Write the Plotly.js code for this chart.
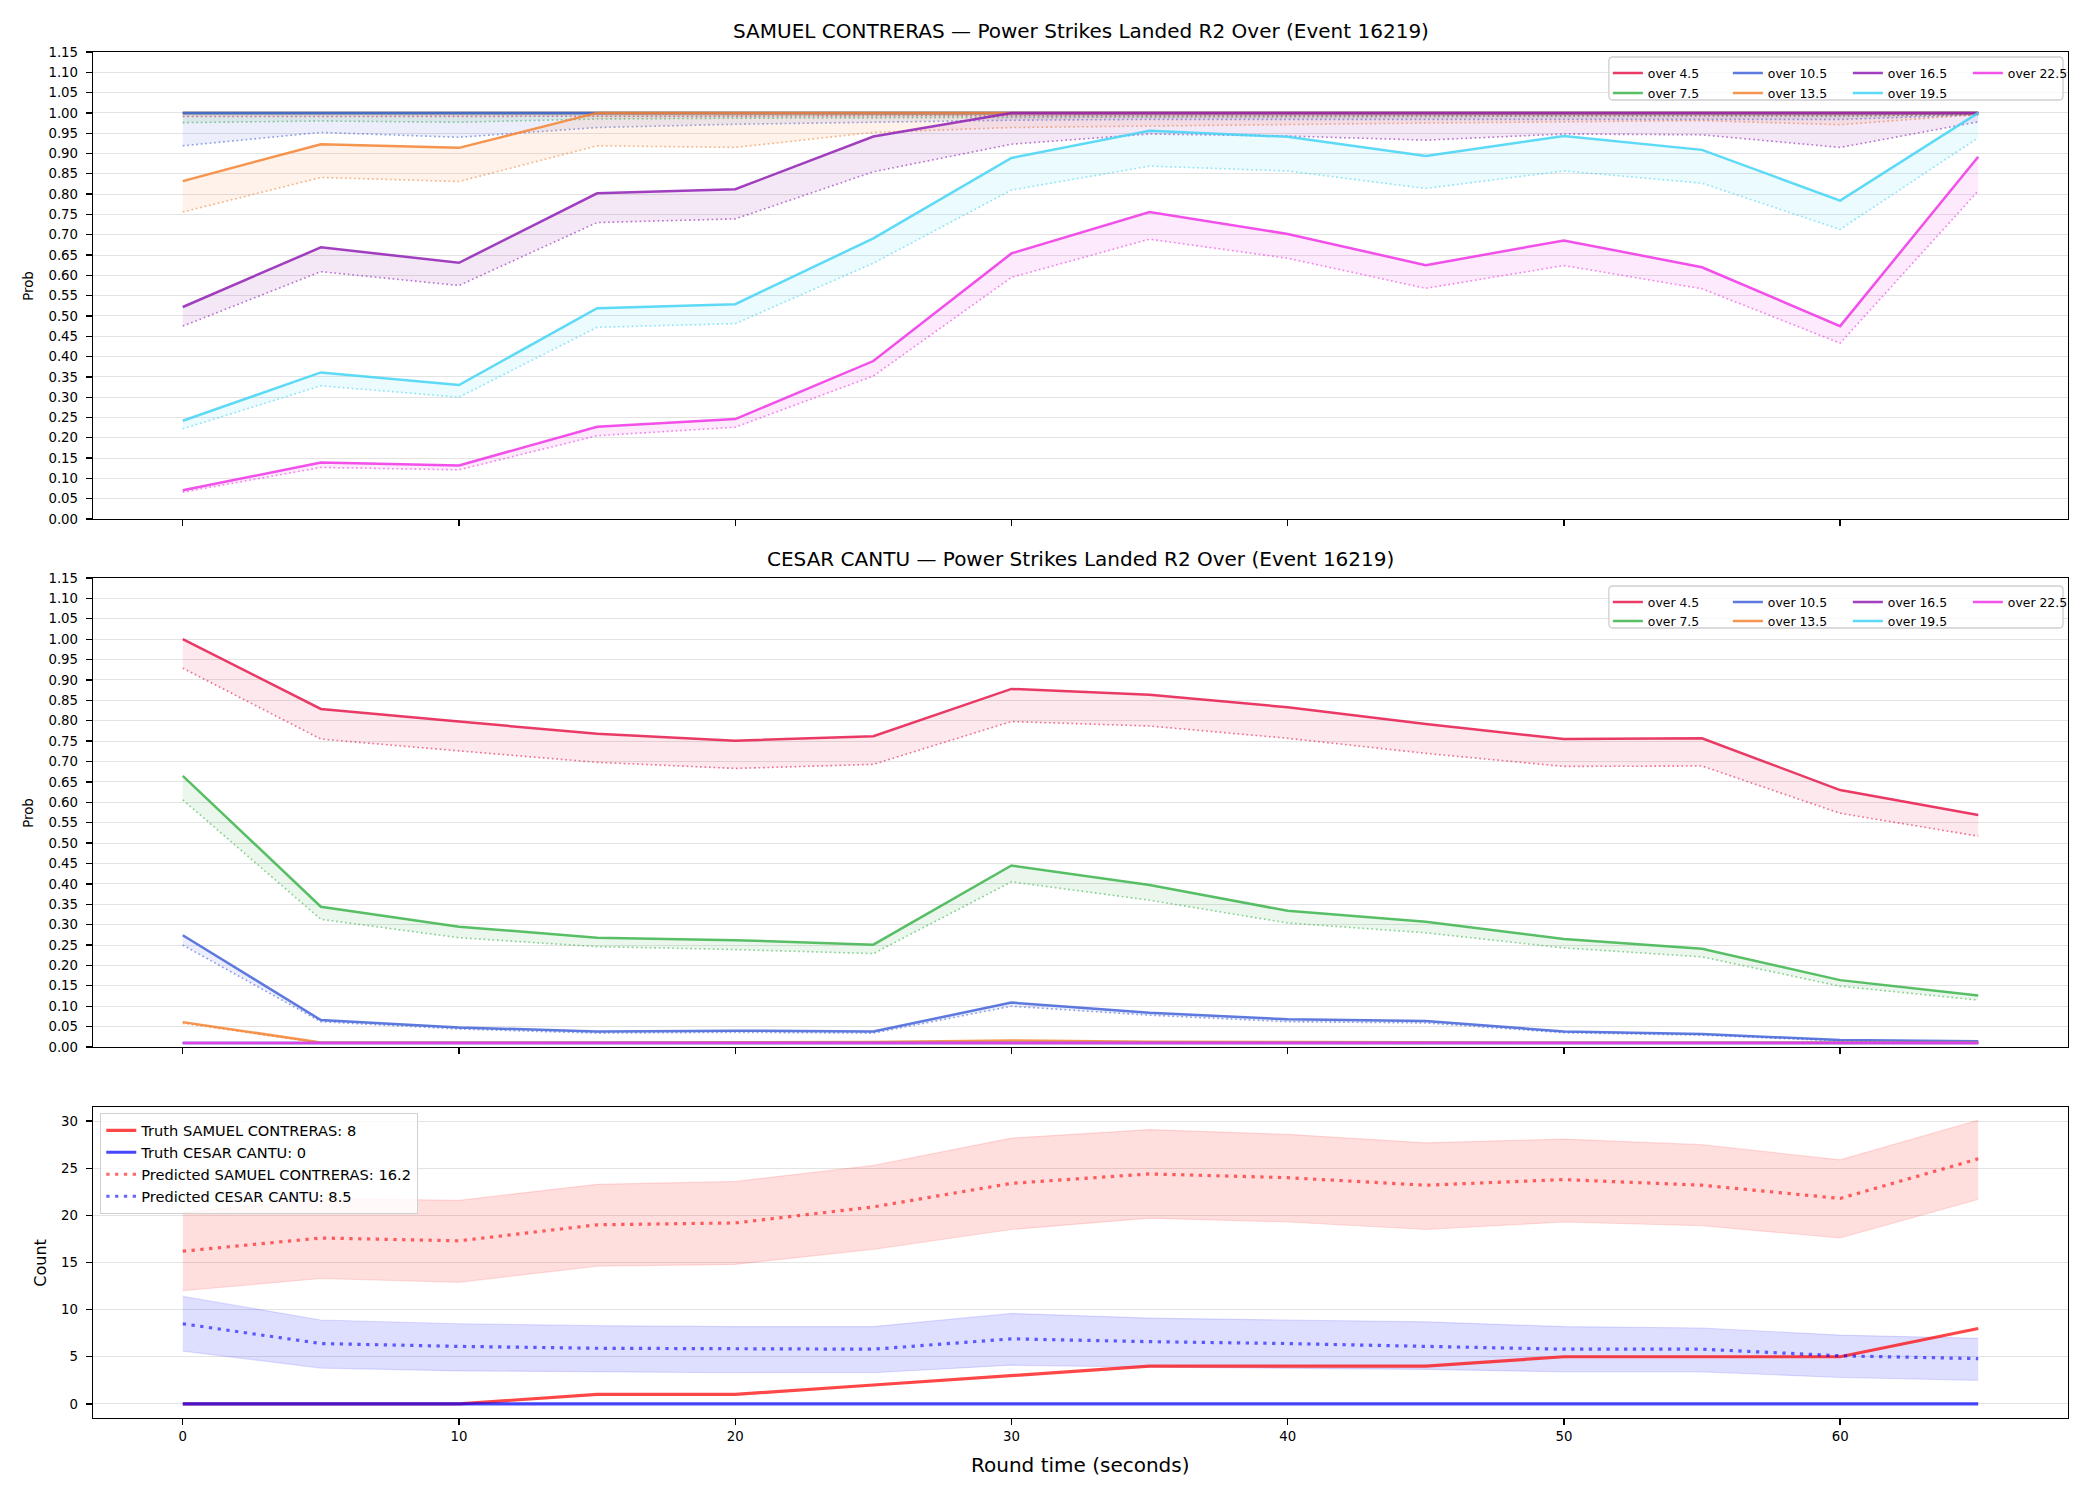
<!DOCTYPE html>
<html><head><meta charset="utf-8">
<script src="https://cdn.plot.ly/plotly-3.0.1.min.js"></script>
<style>html,body{margin:0;padding:0;background:#fff}#chart{width:2100px;height:1500px}</style>
</head><body><div id="chart"></div>
<script>
// ---------------- data ----------------
const times = [0, 5, 10, 15, 20, 25, 30, 35, 40, 45, 50, 55, 60, 65];
const lineNames = ['over 4.5', 'over 7.5', 'over 10.5', 'over 13.5', 'over 16.5', 'over 19.5', 'over 22.5'];

// SAMUEL CONTRERAS (solid lines)
const scOver45  = [1.0, 1.0, 1.0, 1.0, 1.0, 1.0, 1.0, 1.0, 1.0, 1.0, 1.0, 1.0, 1.0, 1.0];
const scOver75  = [1.0, 1.0, 1.0, 1.0, 1.0, 1.0, 1.0, 1.0, 1.0, 1.0, 1.0, 1.0, 1.0, 1.0];
const scOver105 = [1.0, 1.0, 1.0, 1.0, 1.0, 1.0, 1.0, 1.0, 1.0, 1.0, 1.0, 1.0, 1.0, 1.0];
const scOver135 = [0.832, 0.923, 0.914, 1.0, 1.0, 1.0, 1.0, 1.0, 1.0, 1.0, 1.0, 1.0, 1.0, 1.0];
const scOver165 = [0.522, 0.669, 0.631, 0.802, 0.812, 0.942, 1.0, 1.0, 1.0, 1.0, 1.0, 1.0, 1.0, 1.0];
const scOver195 = [0.242, 0.361, 0.330, 0.519, 0.529, 0.691, 0.889, 0.956, 0.941, 0.894, 0.943, 0.909, 0.784, 1.0];
const scOver225 = [0.071, 0.139, 0.132, 0.227, 0.246, 0.389, 0.654, 0.756, 0.702, 0.625, 0.686, 0.620, 0.475, 0.892];
// SAMUEL CONTRERAS (dotted lines)
const scDot45  = [0.991, 0.991, 0.991, 0.992, 0.992, 0.993, 0.993, 0.993, 0.993, 0.993, 0.993, 0.994, 0.993, 0.996];
const scDot75  = [0.976, 0.980, 0.977, 0.985, 0.987, 0.988, 0.989, 0.990, 0.991, 0.992, 0.993, 0.993, 0.992, 0.996];
const scDot105 = [0.919, 0.952, 0.940, 0.964, 0.972, 0.977, 0.982, 0.984, 0.984, 0.984, 0.985, 0.985, 0.984, 0.995];
const scDot135 = [0.756, 0.841, 0.831, 0.919, 0.915, 0.952, 0.964, 0.968, 0.972, 0.975, 0.978, 0.981, 0.971, 0.996];
const scDot165 = [0.475, 0.609, 0.575, 0.730, 0.739, 0.855, 0.923, 0.948, 0.943, 0.933, 0.948, 0.946, 0.915, 0.978];
const scDot195 = [0.222, 0.328, 0.300, 0.472, 0.481, 0.630, 0.810, 0.869, 0.857, 0.814, 0.857, 0.827, 0.713, 0.939];
const scDot225 = [0.066, 0.127, 0.121, 0.205, 0.226, 0.352, 0.595, 0.689, 0.642, 0.568, 0.624, 0.567, 0.433, 0.808];

// CESAR CANTU (solid lines)
const ccOver45  = [1.0, 0.829, 0.798, 0.768, 0.751, 0.762, 0.878, 0.864, 0.833, 0.792, 0.755, 0.757, 0.630, 0.569];
const ccOver75  = [0.665, 0.344, 0.295, 0.268, 0.262, 0.251, 0.445, 0.397, 0.334, 0.307, 0.265, 0.241, 0.164, 0.126];
const ccOver105 = [0.274, 0.066, 0.048, 0.038, 0.040, 0.038, 0.109, 0.084, 0.068, 0.064, 0.038, 0.032, 0.017, 0.014];
const ccOver135 = [0.061, 0.011, 0.011, 0.011, 0.011, 0.012, 0.016, 0.013, 0.012, 0.011, 0.011, 0.011, 0.011, 0.011];
const ccOver165 = [0.010, 0.010, 0.010, 0.010, 0.010, 0.010, 0.010, 0.010, 0.010, 0.010, 0.010, 0.010, 0.010, 0.010];
const ccOver195 = [0.010, 0.010, 0.010, 0.010, 0.010, 0.010, 0.010, 0.010, 0.010, 0.010, 0.010, 0.010, 0.010, 0.010];
const ccOver225 = [0.010, 0.010, 0.010, 0.010, 0.010, 0.010, 0.010, 0.010, 0.010, 0.010, 0.010, 0.010, 0.010, 0.010];
// CESAR CANTU (dotted lines)
const ccDot45  = [0.929, 0.755, 0.726, 0.698, 0.683, 0.693, 0.798, 0.787, 0.757, 0.720, 0.688, 0.689, 0.573, 0.517];
const ccDot75  = [0.606, 0.313, 0.268, 0.246, 0.239, 0.229, 0.405, 0.360, 0.304, 0.280, 0.243, 0.221, 0.149, 0.115];
const ccDot105 = [0.250, 0.062, 0.044, 0.034, 0.036, 0.034, 0.100, 0.078, 0.062, 0.059, 0.035, 0.029, 0.015, 0.012];
const ccDot135 = [0.058, 0.010, 0.010, 0.010, 0.010, 0.011, 0.014, 0.012, 0.011, 0.010, 0.010, 0.010, 0.010, 0.010];
const ccDot165 = [0.010, 0.010, 0.010, 0.010, 0.010, 0.010, 0.010, 0.010, 0.010, 0.010, 0.010, 0.010, 0.010, 0.010];
const ccDot195 = [0.010, 0.010, 0.010, 0.010, 0.010, 0.010, 0.010, 0.010, 0.010, 0.010, 0.010, 0.010, 0.010, 0.010];
const ccDot225 = [0.010, 0.010, 0.010, 0.010, 0.010, 0.010, 0.010, 0.010, 0.010, 0.010, 0.010, 0.010, 0.010, 0.010];

// Counts
const truthSC   = [0, 0, 0, 1, 1, 2, 3, 4, 4, 4, 5, 5, 5, 8];
const truthCC   = [0, 0, 0, 0, 0, 0, 0, 0, 0, 0, 0, 0, 0, 0];
const predSC    = [16.2, 17.6, 17.3, 19.0, 19.2, 20.9, 23.4, 24.4, 24.0, 23.2, 23.8, 23.2, 21.8, 26.0];
const predSCHi  = [20.3, 21.8, 21.6, 23.3, 23.6, 25.3, 28.2, 29.1, 28.6, 27.7, 28.1, 27.5, 25.9, 30.1];
const predSCLo  = [12.0, 13.3, 12.9, 14.6, 14.8, 16.4, 18.5, 19.7, 19.3, 18.5, 19.3, 18.9, 17.6, 21.7];
const predCC    = [8.5, 6.4, 6.1, 5.9, 5.85, 5.8, 6.9, 6.6, 6.4, 6.1, 5.8, 5.8, 5.1, 4.8];
const predCCHi  = [11.4, 8.9, 8.5, 8.3, 8.2, 8.2, 9.6, 9.1, 8.9, 8.7, 8.2, 8.05, 7.3, 6.95];
const predCCLo  = [5.6, 3.8, 3.5, 3.4, 3.3, 3.3, 4.1, 3.9, 3.8, 3.65, 3.4, 3.4, 2.8, 2.5];
const countNames = ['Truth SAMUEL CONTRERAS: 8', 'Truth CESAR CANTU: 0', 'Predicted SAMUEL CONTRERAS: 16.2', 'Predicted CESAR CANTU: 8.5'];

// ---------------- styling ----------------
const lineColors = ['#e6194b', '#3cb44b', '#4363d8', '#f58231', '#911eb4', '#42d4f4', '#f032e6'];
function rgba(hex, a) {
  const n = parseInt(hex.slice(1), 16);
  return 'rgba(' + ((n >> 16) & 255) + ',' + ((n >> 8) & 255) + ',' + (n & 255) + ',' + a + ')';
}
const W = 2100, H = 1500, ML = 93, MR = 24, MT = 52, MB = 82;
const PW = W - ML - MR, PH = H - MT - MB;
const px2x = px => (px - ML) / PW;
const px2y = py => (H - MB - py) / PH;
const FONT = 'DejaVu Sans, Liberation Sans, sans-serif';

const scSolid = [scOver45, scOver75, scOver105, scOver135, scOver165, scOver195, scOver225];
const scDots  = [scDot45, scDot75, scDot105, scDot135, scDot165, scDot195, scDot225];
const ccSolid = [ccOver45, ccOver75, ccOver105, ccOver135, ccOver165, ccOver195, ccOver225];
const ccDots  = [ccDot45, ccDot75, ccDot105, ccDot135, ccDot165, ccDot195, ccDot225];

const traces = [];
function addPanel(solids, dots, xa, ya, legA, legB) {
  for (let i = 0; i < lineNames.length; i++) {
    const c = lineColors[i];
    traces.push({
      x: times, y: solids[i], xaxis: xa, yaxis: ya, type: 'scatter', mode: 'lines',
      name: lineNames[i], legend: (i % 2 === 0) ? legA : legB,
      line: {color: rgba(c, 0.85), width: 2.5}, hoverinfo: 'skip'
    });
    traces.push({
      x: times, y: dots[i], xaxis: xa, yaxis: ya, type: 'scatter', mode: 'lines',
      showlegend: false, fill: 'tonexty', fillcolor: rgba(c, 0.1),
      line: {color: rgba(c, 0.6), width: 1.6, dash: '1.7px,2.8px'}, hoverinfo: 'skip'
    });
  }
}
addPanel(scSolid, scDots, 'x', 'y', 'legend', 'legend2');
addPanel(ccSolid, ccDots, 'x2', 'y2', 'legend3', 'legend4');

// count panel bands
function band(lo, hi, color) {
  traces.push({x: times, y: lo, xaxis: 'x3', yaxis: 'y3', type: 'scatter', mode: 'lines',
    showlegend: false, line: {color: rgba(color, 0.12), width: 1.2}, hoverinfo: 'skip'});
  traces.push({x: times, y: hi, xaxis: 'x3', yaxis: 'y3', type: 'scatter', mode: 'lines',
    showlegend: false, fill: 'tonexty', fillcolor: rgba(color, 0.13),
    line: {color: rgba(color, 0.12), width: 1.2}, hoverinfo: 'skip'});
}
band(predSCLo, predSCHi, '#ff0000');
band(predCCLo, predCCHi, '#0000ff');
traces.push({x: times, y: truthSC, xaxis: 'x3', yaxis: 'y3', type: 'scatter', mode: 'lines',
  name: countNames[0], legend: 'legend5', line: {color: 'rgba(255,0,0,0.72)', width: 3.2}});
traces.push({x: times, y: truthCC, xaxis: 'x3', yaxis: 'y3', type: 'scatter', mode: 'lines',
  name: countNames[1], legend: 'legend5', line: {color: 'rgba(0,0,255,0.72)', width: 3.2}});
traces.push({x: times, y: predSC, xaxis: 'x3', yaxis: 'y3', type: 'scatter', mode: 'lines',
  name: countNames[2], legend: 'legend5', line: {color: 'rgba(255,0,0,0.6)', width: 3.2, dash: '3.3px,5.5px'}});
traces.push({x: times, y: predCC, xaxis: 'x3', yaxis: 'y3', type: 'scatter', mode: 'lines',
  name: countNames[3], legend: 'legend5', line: {color: 'rgba(0,0,255,0.6)', width: 3.2, dash: '3.3px,5.5px'}});

// ---------------- layout ----------------
const xBase = {
  range: [-3.25, 68.25], tick0: 0, dtick: 10, ticks: 'outside', ticklen: 6, tickwidth: 1.3,
  tickcolor: '#000', showline: true, linecolor: '#000', linewidth: 1.3, mirror: true,
  showgrid: false, zeroline: false, tickfont: {size: 13.3, color: '#000'}
};
const yBase = {
  ticks: 'outside', ticklen: 6, tickwidth: 1.3, tickcolor: '#000', showline: true,
  linecolor: '#000', linewidth: 1.3, mirror: true, showgrid: true, gridcolor: '#e3e3e3',
  gridwidth: 1, zeroline: false, tickfont: {size: 13.3, color: '#000'}, ticklabelstandoff: 5
};
function hLegend(py) {
  return {orientation: 'h', traceorder: 'normal', x: px2x(1614), xanchor: 'left', y: px2y(py), yanchor: 'top',
    entrywidth: 75, entrywidthmode: 'pixels', bgcolor: 'rgba(0,0,0,0)', borderwidth: 0,
    font: {size: 12.4, color: '#000', family: FONT}, itemclick: false, itemdoubleclick: false};
}
function roundRect(x0, y0, x1, y1, r) {
  const X = px2x, Y = px2y;
  return 'M' + X(x0 + r) + ',' + Y(y0) + ' L' + X(x1 - r) + ',' + Y(y0) +
    ' Q' + X(x1) + ',' + Y(y0) + ' ' + X(x1) + ',' + Y(y0 + r) +
    ' L' + X(x1) + ',' + Y(y1 - r) + ' Q' + X(x1) + ',' + Y(y1) + ' ' + X(x1 - r) + ',' + Y(y1) +
    ' L' + X(x0 + r) + ',' + Y(y1) + ' Q' + X(x0) + ',' + Y(y1) + ' ' + X(x0) + ',' + Y(y1 - r) +
    ' L' + X(x0) + ',' + Y(y0 + r) + ' Q' + X(x0) + ',' + Y(y0) + ' ' + X(x0 + r) + ',' + Y(y0) + ' Z';
}
const frameStyle = {type: 'path', xref: 'paper', yref: 'paper', layer: 'above',
  fillcolor: 'rgba(255,255,255,0.8)', line: {color: '#d0d0d0', width: 1.3}};

const layout = {
  width: W, height: H,
  margin: {l: ML, r: MR, t: MT, b: MB, pad: 0},
  paper_bgcolor: '#fff', plot_bgcolor: '#fff',
  font: {family: FONT, size: 13.3, color: '#000'},
  showlegend: true,
  xaxis: Object.assign({}, xBase, {anchor: 'y', showticklabels: false}),
  xaxis2: Object.assign({}, xBase, {anchor: 'y2', showticklabels: false}),
  xaxis3: Object.assign({}, xBase, {anchor: 'y3'}),
  yaxis: Object.assign({}, yBase, {anchor: 'x', domain: [px2y(519), 1], range: [0, 1.15], dtick: 0.05, tick0: 0, tickformat: '.2f'}),
  yaxis2: Object.assign({}, yBase, {anchor: 'x2', domain: [px2y(1047), px2y(578)], range: [0, 1.15], dtick: 0.05, tick0: 0, tickformat: '.2f'}),
  yaxis3: Object.assign({}, yBase, {anchor: 'x3', domain: [0, px2y(1107)], range: [-1.5, 31.5], dtick: 5, tick0: 0}),
  legend: hLegend(58.5),
  legend2: hLegend(78.5),
  legend3: hLegend(587.5),
  legend4: hLegend(606.5),
  legend5: {traceorder: 'normal', x: px2x(100), xanchor: 'left', y: px2y(1113), yanchor: 'top',
    bgcolor: 'rgba(255,255,255,0.8)', bordercolor: '#d0d0d0', borderwidth: 1.3,
    font: {size: 14.6, color: '#000', family: FONT}, itemclick: false, itemdoubleclick: false},
  shapes: [
    Object.assign({path: roundRect(1615, 57, 2071, 100, 4)}, frameStyle),
    Object.assign({path: roundRect(1615, 586, 2071, 628, 4)}, frameStyle)
  ],
  annotations: [
    {text: 'SAMUEL CONTRERAS — Power Strikes Landed R2 Over (Event 16219)', xref: 'paper', yref: 'paper',
      x: 0.5, y: px2y(44.5), xanchor: 'center', yanchor: 'bottom', showarrow: false, font: {size: 20, color: '#000'}},
    {text: 'CESAR CANTU — Power Strikes Landed R2 Over (Event 16219)', xref: 'paper', yref: 'paper',
      x: 0.5, y: px2y(573), xanchor: 'center', yanchor: 'bottom', showarrow: false, font: {size: 20, color: '#000'}},
    {text: 'Prob', xref: 'paper', yref: 'paper', x: px2x(28), y: px2y(285.5), xanchor: 'center', yanchor: 'middle',
      textangle: -90, showarrow: false, font: {size: 13.3, color: '#000'}},
    {text: 'Prob', xref: 'paper', yref: 'paper', x: px2x(28), y: px2y(812.5), xanchor: 'center', yanchor: 'middle',
      textangle: -90, showarrow: false, font: {size: 13.3, color: '#000'}},
    {text: 'Count', xref: 'paper', yref: 'paper', x: px2x(40), y: px2y(1262.5), xanchor: 'center', yanchor: 'middle',
      textangle: -90, showarrow: false, font: {size: 16, color: '#000'}},
    {text: 'Round time (seconds)', xref: 'paper', yref: 'paper', x: 0.5, y: px2y(1465), xanchor: 'center', yanchor: 'middle',
      showarrow: false, font: {size: 20, color: '#000'}}
  ]
};

Plotly.newPlot('chart', traces, layout, {staticPlot: true, displayModeBar: false});
</script>
</body></html>
